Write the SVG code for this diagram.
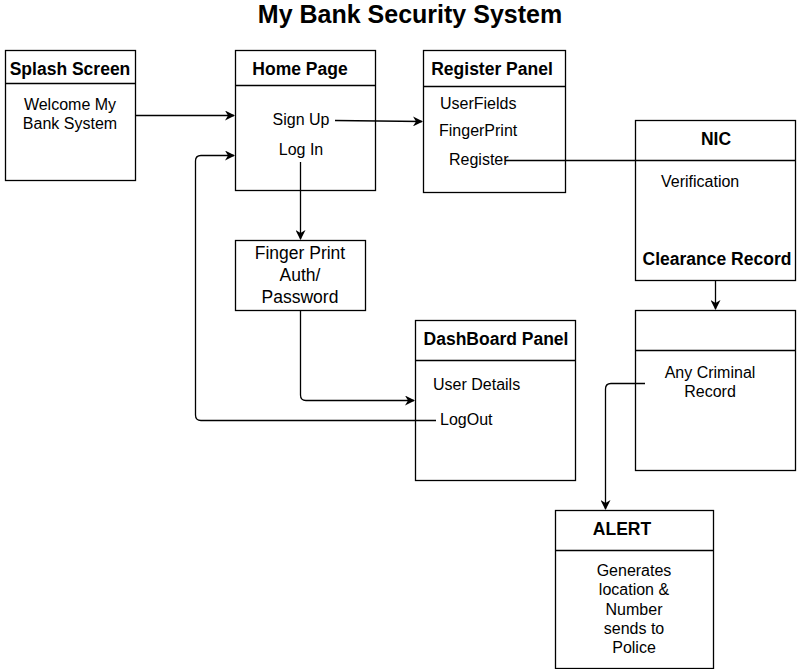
<svg xmlns="http://www.w3.org/2000/svg" width="812" height="669" viewBox="0 0 812 669">
<style>
.box{fill:#fff;stroke:#000;stroke-width:1.3}
.sep{stroke:#000;stroke-width:1.3}
.h{font-family:"Liberation Sans",Arial,sans-serif;font-weight:bold;font-size:17.5px;text-anchor:middle;fill:#000}
.t{font-family:"Liberation Sans",Arial,sans-serif;font-size:16px;fill:#000}
.t.big{font-size:17.5px}
.c{text-anchor:middle}
.ln{fill:none;stroke:#000;stroke-width:1.3}
</style>
<defs>
<marker id="ar" viewBox="0 0 10 10" refX="9" refY="5" markerWidth="10" markerHeight="10" markerUnits="userSpaceOnUse" orient="auto">
<path d="M0,0 L10,5 L0,10 L3,5 Z" fill="#000"/>
</marker>
</defs>
<rect width="812" height="669" fill="#fff"/>
<text x="410" y="23" font-family="'Liberation Sans',Arial,sans-serif" font-weight="bold" font-size="25" text-anchor="middle">My Bank Security System</text>

<g id="splash">
<rect class="box" x="5.5" y="50.5" width="130" height="130"/>
<line class="sep" x1="5.5" y1="83.5" x2="135.5" y2="83.5"/>
<text class="h" x="70" y="75">Splash Screen</text>
<text class="t c" x="70" y="110">Welcome My</text>
<text class="t c" x="70" y="129">Bank System</text>
</g>

<g id="home">
<rect class="box" x="235.5" y="50.5" width="140" height="140"/>
<line class="sep" x1="235.5" y1="85.5" x2="375.5" y2="85.5"/>
<text class="h" x="300" y="75">Home Page</text>
<text class="t c" x="301" y="125">Sign Up</text>
<text class="t c" x="301" y="155">Log In</text>
</g>

<g id="register">
<rect class="box" x="423.5" y="50.5" width="142" height="142"/>
<line class="sep" x1="423.5" y1="86.5" x2="565.5" y2="86.5"/>
<text class="h" x="492" y="75">Register Panel</text>
<text class="t" x="440" y="109">UserFields</text>
<text class="t" x="439" y="136">FingerPrint</text>
<text class="t" x="449" y="165">Register</text>
</g>

<g id="nic">
<rect class="box" x="635.5" y="120.5" width="160" height="160"/>
<line class="sep" x1="635.5" y1="160.5" x2="795.5" y2="160.5"/>
<text class="h" x="716" y="145">NIC</text>
<text class="t" x="661" y="187">Verification</text>
<text class="h" x="717" y="265">Clearance Record</text>
</g>

<g id="criminal">
<rect class="box" x="635.5" y="310.5" width="160" height="160"/>
<line class="sep" x1="635.5" y1="350.5" x2="795.5" y2="350.5"/>
<text class="t c" x="710" y="378">Any Criminal</text>
<text class="t c" x="710" y="397">Record</text>
</g>

<g id="fingerprint">
<rect class="box" x="235.5" y="240.5" width="130" height="70"/>
<text class="t c big" x="300" y="259">Finger Print</text>
<text class="t c big" x="300" y="281">Auth/</text>
<text class="t c big" x="300" y="303">Password</text>
</g>

<g id="dashboard">
<rect class="box" x="415.5" y="320.5" width="160" height="160"/>
<line class="sep" x1="415.5" y1="360.5" x2="575.5" y2="360.5"/>
<text class="h" x="496" y="345">DashBoard Panel</text>
<text class="t" x="433" y="390">User Details</text>
<text class="t" x="440" y="425">LogOut</text>
</g>

<g id="alert">
<rect class="box" x="555.5" y="510.5" width="158" height="158"/>
<line class="sep" x1="555.5" y1="550.5" x2="713.5" y2="550.5"/>
<text class="h" x="622" y="535">ALERT</text>
<text class="t c" x="634" y="576">Generates</text>
<text class="t c" x="634" y="595">location &amp;</text>
<text class="t c" x="634" y="615">Number</text>
<text class="t c" x="634" y="634">sends to</text>
<text class="t c" x="634" y="653">Police</text>
</g>

<g id="connectors">
<path class="ln" d="M136,115.5 H234" marker-end="url(#ar)"/>
<path class="ln" d="M335,120.5 L422,121.5" marker-end="url(#ar)"/>
<path class="ln" d="M300.5,162 V239" marker-end="url(#ar)"/>
<path class="ln" d="M300.5,311 V395 Q300.5,400.5 306,400.5 H414" marker-end="url(#ar)"/>
<path class="ln" d="M436,420.5 H201 Q195.5,420.5 195.5,415 V161 Q195.5,155.5 201,155.5 H234" marker-end="url(#ar)"/>
<path class="ln" d="M505,160.5 H635"/>
<path class="ln" d="M715.5,281 V309" marker-end="url(#ar)"/>
<path class="ln" d="M645,383.5 H611 Q605.5,383.5 605.5,389 V509" marker-end="url(#ar)"/>
</g>
</svg>
